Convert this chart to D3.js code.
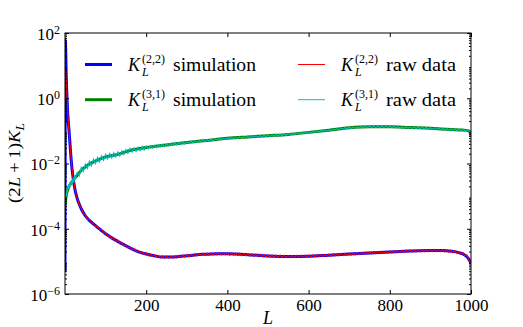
<!DOCTYPE html>
<html><head><meta charset="utf-8">
<script src="https://cdn.jsdelivr.net/npm/d3@7"></script>
<style>body{margin:0;background:#fff}svg{display:block}text{font-family:"Liberation Serif","Times New Roman",serif;fill:#000}</style>
</head><body><svg id="c" width="523" height="327"></svg>
<script>
// ---- data ----
const simL22 = [0,1,2,3,4,5,6,8,10,12,14,16,18,20,25,30,40,50,60,70,80,100,120,140,160,180,200,220,240,260,280,300,320,340,360,380,400,450,500,550,600,650,700,750,800,850,900,930,950,970,985,995,1000];
const sim22 = [5e-6,6e1,2e1,5,2,1,0.5,0.2,0.1,0.045,0.02,0.01,0.0058,0.0036,0.0015,0.00085,0.00041,0.00025,0.00018,0.00014,0.00011,7e-5,4.8e-5,3.5e-5,2.6e-5,2.0e-5,1.68e-5,1.48e-5,1.36e-5,1.35e-5,1.4e-5,1.48e-5,1.57e-5,1.64e-5,1.69e-5,1.71e-5,1.7e-5,1.6e-5,1.47e-5,1.41e-5,1.44e-5,1.55e-5,1.67e-5,1.81e-5,1.95e-5,2.08e-5,2.16e-5,2.14e-5,2.05e-5,1.85e-5,1.55e-5,1.15e-5,8.5e-6];
const simL31 = [1,2,3,5,8,10,15,20,25,30,40,50,60,80,100,130,160,200,250,300,350,400,450,500,550,600,650,700,750,800,850,900,950,980,995,1000];
const sim31 = [6e-4,8.5e-4,1.05e-3,1.35e-3,1.7e-3,2.0e-3,2.5e-3,3.0e-3,3.7e-3,4.3e-3,6.2e-3,7.8e-3,9.6e-3,1.27e-2,1.6e-2,1.9e-2,2.5e-2,3.1e-2,3.7e-2,4.4e-2,5.1e-2,5.9e-2,6.5e-2,7.1e-2,7.8e-2,9.0e-2,1.05e-1,1.24e-1,1.33e-1,1.33e-1,1.26e-1,1.2e-1,1.1e-1,1.06e-1,1.0e-1,7e-2];
// multipole index of the raw samples
const rawL = [2,3,4,5,6,7,8,9,10,12,14,16,18,20,22,24,26,28].concat(d3.range(30,1001,5));
const raw22 = [8,3.2,1.7,0.85,0.58,0.32,0.22,0.13,0.1,0.042,0.021,0.0098,0.0062,0.0034,0.0027,0.0017,0.0015,0.00098,
9.1e-4,5.4e-4,4.4e-4,3.0e-4,2.7e-4,1.95e-4,1.95e-4,1.5e-4,1.5e-4,1.16e-4,1.2e-4,9.2e-5,9.7e-5,7.3e-5,7.6e-5,5.8e-5,6.3e-5,4.9e-5,5.2e-5,4.05e-5,4.45e-5,3.5e-5,3.8e-5,3.0e-5,3.25e-5,2.6e-5,2.8e-5,2.25e-5,2.5e-5,1.98e-5,2.17e-5,1.75e-5,1.98e-5,1.62e-5,1.82e-5,1.5e-5,1.71e-5,1.41e-5,1.6e-5,1.34e-5,1.54e-5,1.28e-5,1.47e-5,
1.25e-5,1.46e-5,1.26e-5,1.44e-5,1.27e-5,1.49e-5,1.28e-5,1.5e-5,1.31e-5,1.56e-5,1.35e-5,1.59e-5,1.39e-5,1.63e-5,1.43e-5,1.71e-5,1.46e-5,1.74e-5,1.51e-5,1.77e-5,1.53e-5,1.81e-5,1.55e-5,1.83e-5,1.57e-5,1.84e-5,1.58e-5,1.86e-5,1.58e-5,1.84e-5,1.57e-5,1.84e-5,
1.56e-5,1.82e-5,1.54e-5,1.8e-5,1.52e-5,1.78e-5,1.5e-5,1.75e-5,1.49e-5,1.72e-5,1.46e-5,1.7e-5,1.43e-5,1.67e-5,1.41e-5,1.64e-5,1.39e-5,1.62e-5,1.36e-5,1.59e-5,1.35e-5,1.57e-5,1.34e-5,1.55e-5,1.32e-5,1.55e-5,1.31e-5,1.53e-5,1.3e-5,1.52e-5,1.3e-5,1.52e-5,1.3e-5,1.53e-5,1.31e-5,1.53e-5,1.31e-5,1.54e-5,1.33e-5,1.56e-5,
1.34e-5,1.58e-5,1.36e-5,1.6e-5,1.38e-5,1.62e-5,1.4e-5,1.65e-5,1.42e-5,1.67e-5,1.44e-5,1.7e-5,1.46e-5,1.72e-5,1.49e-5,1.75e-5,1.51e-5,1.77e-5,1.53e-5,1.8e-5,1.55e-5,1.83e-5,1.58e-5,1.86e-5,1.6e-5,1.88e-5,1.63e-5,1.92e-5,1.66e-5,1.95e-5,1.68e-5,1.98e-5,1.71e-5,2.01e-5,1.73e-5,2.04e-5,1.76e-5,2.07e-5,1.79e-5,2.1e-5,
1.81e-5,2.13e-5,1.84e-5,2.16e-5,1.86e-5,2.19e-5,1.88e-5,2.21e-5,1.91e-5,2.24e-5,1.93e-5,2.26e-5,1.95e-5,2.28e-5,1.97e-5,2.3e-5,1.98e-5,2.31e-5,1.99e-5,2.32e-5,1.99e-5,2.33e-5,1.99e-5,2.32e-5,1.98e-5,2.31e-5,1.96e-5,2.28e-5,1.92e-5,2.22e-5,1.85e-5,2.13e-5,1.77e-5,2.0e-5,1.66e-5,1.86e-5,1.47e-5,1.57e-5,1.1e-5,8.5e-6];
const raw31 = [9.5e-4,1.2e-3,1.05e-3,1.6e-3,1.3e-3,1.9e-3,1.6e-3,2.3e-3,1.7e-3,2.6e-3,2.1e-3,3.1e-3,2.4e-3,3.4e-3,2.9e-3,4.1e-3,3.4e-3,4.6e-3,
5.3e-3,4.2e-3,7.6e-3,5.7e-3,9.6e-3,7.1e-3,11.8e-3,8.5e-3,13.7e-3,9.9e-3,15.4e-3,11.1e-3,17.2e-3,12.6e-3,19.2e-3,13.8e-3,20.2e-3,14.7e-3,21.4e-3,15.6e-3,22.6e-3,16.9e-3,24.6e-3,18.7e-3,26.9e-3,20.4e-3,29.0e-3,22.1e-3,30.4e-3,23.4e-3,31.8e-3,24.6e-3,33.2e-3,26.0e-3,35.0e-3,
28.0e-3,35.2e-3,29.4e-3,36.3e-3,30.5e-3,37.4e-3,31.8e-3,39.3e-3,32.6e-3,40.4e-3,34.0e-3,41.6e-3,35.5e-3,43.0e-3,36.7e-3,44.4e-3,38.2e-3,45.6e-3,39.3e-3,47.1e-3,
42.1e-3,48.1e-3,43.4e-3,49.6e-3,44.6e-3,50.4e-3,45.9e-3,52.0e-3,47.3e-3,53.6e-3,48.9e-3,55.2e-3,50.4e-3,56.8e-3,52.0e-3,58.3e-3,53.4e-3,60.0e-3,55.0e-3,61.9e-3,
56.3e-3,63.2e-3,57.4e-3,64.4e-3,58.6e-3,65.5e-3,59.8e-3,66.9e-3,60.9e-3,68.0e-3,62.0e-3,69.4e-3,63.1e-3,70.5e-3,64.3e-3,71.6e-3,65.4e-3,73.0e-3,66.5e-3,74.3e-3,
67.9e-3,75.8e-3,69.2e-3,77.2e-3,70.5e-3,78.6e-3,71.8e-3,80.0e-3,73.1e-3,81.2e-3,75.0e-3,83.5e-3,77.3e-3,85.9e-3,79.4e-3,88.2e-3,81.6e-3,90.5e-3,83.8e-3,93.4e-3,
86.7e-3,96.8e-3,89.6e-3,99.8e-3,92.4e-3,103.0e-3,95.3e-3,106.1e-3,98.0e-3,109.0e-3,101.3e-3,113.3e-3,105.1e-3,117.5e-3,108.8e-3,121.4e-3,112.6e-3,125.6e-3,116.0e-3,128.9e-3,
118.4e-3,130.8e-3,120.3e-3,133.0e-3,122.2e-3,135.1e-3,124.0e-3,136.5e-3,125.5e-3,138.3e-3,126.0e-3,138.3e-3,126.1e-3,138.2e-3,126.0e-3,138.4e-3,126.1e-3,138.2e-3,126.0e-3,138.3e-3,
125.1e-3,136.3e-3,123.6e-3,134.5e-3,122.4e-3,133.5e-3,121.3e-3,132.1e-3,119.9e-3,131.0e-3,118.9e-3,130.0e-3,118.0e-3,128.9e-3,117.0e-3,127.9e-3,116.0e-3,127.4e-3,114.8e-3,124.8e-3,
112.8e-3,122.7e-3,110.9e-3,120.6e-3,109.0e-3,118.6e-3,107.1e-3,116.5e-3,105.2e-3,114.4e-3,103.8e-3,113.4e-3,102.8e-3,112.3e-3,101.8e-3,111.3e-3,100.5e-3,109.2e-3,97.6e-3,70e-3];
const xTicks = [200,400,600,800,1000];
const yTicks = [1e-6,1e-4,1e-2,1e0,1e2];
const yTickExp = ["\u22126","\u22124","\u22122","0","2"];
const legendSup = ["(2,2)","(3,1)","(2,2)","(3,1)"];
const legendText = ["simulation","simulation","raw data","raw data"];
const colors = ["#0000ff","#008000","#ff0000","#00bfbf"];

// ---- layout ----
const L=65,R=471,T=33,B=294;
const svg = d3.select("#c");
const x = d3.scaleLinear().domain([0,1000]).range([L,R]);
const y = d3.scaleLog().domain([1e-6,1e2]).range([B,T]);
svg.append("defs").append("clipPath").attr("id","clip").append("rect").attr("x",L).attr("y",T).attr("width",R-L).attr("height",B-T);

const g = svg.append("g").attr("clip-path","url(#clip)");
function drawLine(Ls, vs, color, w){
  const line = d3.line().x((d,i)=>x(Ls[i])).y(d=>y(d)).curve(d3.curveMonotoneX);
  g.append("path").datum(vs).attr("d",line).attr("fill","none").attr("stroke",color).attr("stroke-width",w).attr("stroke-linejoin","round");
}
drawLine(simL22, sim22, colors[0], 3);
drawLine(simL31, sim31, colors[1], 3);
function drawRaw(Ls, vs, color){
  const line = d3.line().x((d,i)=>x(Ls[i])).y(d=>y(d));
  g.append("path").datum(vs).attr("d",line).attr("fill","none").attr("stroke",color).attr("stroke-width",1.1);
}
drawRaw(rawL, raw22, colors[2]);
drawRaw(rawL, raw31, colors[3]);

// minor ticks
const minors=[];
for(let e=-6;e<2;e++) for(let k=2;k<10;k++) minors.push(k*Math.pow(10,e));

// axes
const ax = svg.append("g").attr("transform",`translate(0,${B})`).call(d3.axisBottom(x).tickValues(xTicks).tickSizeInner(-4).tickSizeOuter(0).tickPadding(5).tickFormat(d3.format("d")));
ax.selectAll("text").attr("font-size","17px").attr("font-family","Liberation Serif");
svg.append("g").attr("transform",`translate(0,${T})`).call(d3.axisTop(x).tickValues(xTicks).tickSizeInner(-4).tickSizeOuter(0).tickFormat(""));
const ay = svg.append("g").attr("transform",`translate(${L},0)`).call(d3.axisLeft(y).tickValues(yTicks).tickSizeInner(-4).tickSizeOuter(0).tickPadding(4).tickFormat(""));
ay.selectAll(".tick text").each(function(d,i){
  const t=d3.select(this).attr("font-size","17px").attr("dy","0.38em").attr("x",-5);
  t.text("10");
  t.append("tspan").attr("dy","-0.5em").attr("font-size","12px").text(yTickExp[i]);
});
svg.append("g").attr("transform",`translate(${L},0)`).call(d3.axisLeft(y).tickValues(minors).tickSizeInner(-2).tickSizeOuter(0).tickFormat(""));
svg.append("g").attr("transform",`translate(${R},0)`).call(d3.axisRight(y).tickValues(yTicks).tickSizeInner(-4).tickSizeOuter(0).tickFormat(""));
svg.append("g").attr("transform",`translate(${R},0)`).call(d3.axisRight(y).tickValues(minors).tickSizeInner(-2).tickSizeOuter(0).tickFormat(""));
svg.selectAll(".domain").remove();
svg.selectAll(".tick line").attr("stroke","#000");
svg.append("rect").attr("x",L).attr("y",T).attr("width",R-L).attr("height",B-T).attr("fill","none").attr("stroke","#000").attr("stroke-width",1);

// axis labels
svg.append("text").attr("x",268).attr("y",324).attr("text-anchor","middle").attr("font-size","18px").attr("font-style","italic").text("L");
const yl = svg.append("text").attr("transform","translate(20,163) rotate(-90)").attr("text-anchor","middle").attr("font-size","17px").attr("textLength",80).attr("lengthAdjust","spacingAndGlyphs");
yl.append("tspan").text("(2");
yl.append("tspan").attr("font-style","italic").text("L");
yl.append("tspan").text("\u2009+\u20091)");
yl.append("tspan").attr("font-style","italic").text("K");
yl.append("tspan").attr("font-style","italic").attr("font-size","12px").attr("dy","4").text("L");

// legend
const lx=[85,85,298,298], ly=[64.5,99.7,64.5,99.7], lw=[3,3,1,1], tl=[83,83,70,70];
for(let i=0;i<4;i++){
  svg.append("line").attr("x1",lx[i]).attr("x2",lx[i]+27).attr("y1",ly[i]).attr("y2",ly[i]).attr("stroke",colors[i]).attr("stroke-width",lw[i]);
  const tx = lx[i]+43, by = ly[i]+6;
  svg.append("text").attr("x",tx).attr("y",by).attr("font-size","18px").attr("font-style","italic").text("K");
  svg.append("text").attr("x",tx+14).attr("y",by-8).attr("font-size","12px").text(legendSup[i]);
  svg.append("text").attr("x",tx+14).attr("y",by+5).attr("font-size","12px").attr("font-style","italic").text("L");
  svg.append("text").attr("x",tx+45).attr("y",by).attr("font-size","18px").attr("textLength",tl[i]).attr("lengthAdjust","spacingAndGlyphs").text(legendText[i]);
}
</script></body></html>
